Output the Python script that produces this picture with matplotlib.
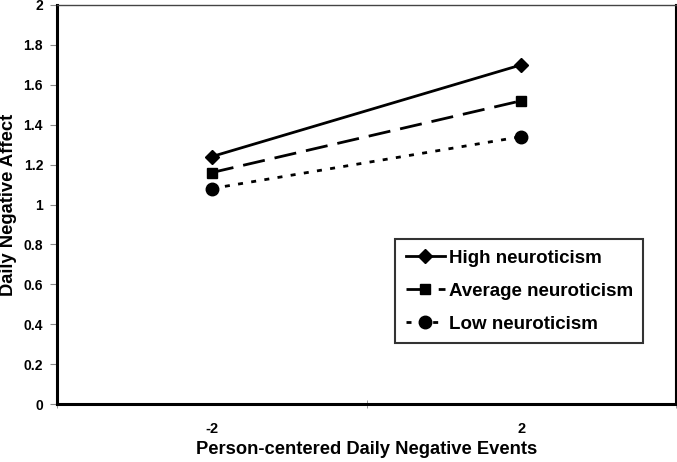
import numpy as np
import matplotlib
matplotlib.use('Agg')
import matplotlib.pyplot as plt

plt.rcParams['font.family'] = ['Liberation Sans', 'DejaVu Sans']
plt.rcParams['font.weight'] = 'bold'

# data
events = ['-2', '2']
high = [1.24, 1.70]
average = [1.16, 1.52]
low = [1.08, 1.34]

xpos = np.arange(len(events))

fig = plt.figure(figsize=(6.77, 4.62), dpi=100)
ax = fig.add_axes([57/677, 58/462, 619/677, 399/462])

ax.plot(xpos, high, color='black', lw=2.0, marker='D', ms=7.5, label='High neuroticism')
ax.plot(xpos, average, color='black', lw=2.0, marker='s', ms=7.5,
        dashes=(8, 3.6), label='Average neuroticism')
ax.plot(xpos, low, color='black', lw=2.0, marker='o', ms=9,
        dashes=(1.8, 3.0), label='Low neuroticism')

ax.set_xlim(-0.5, 1.5)
ax.set_ylim(0, 2)
ax.set_yticks(np.arange(0, 2.01, 0.2))
ax.set_yticklabels(['0', '0.2', '0.4', '0.6', '0.8', '1', '1.2', '1.4', '1.6', '1.8', '2'])
ax.set_xticks(xpos)
ax.set_xticklabels(events)
ax.set_xticks([-0.5, 0.5, 1.5], minor=True)
ax.tick_params(axis='x', which='major', length=0, labelsize=10.5, pad=13)
ax.tick_params(axis='x', which='minor', length=6, direction='inout', color='#888888')
ax.tick_params(axis='y', which='major', length=5, direction='out', labelsize=10,
               color='#888888', pad=5)

for s in ['left', 'bottom']:
    ax.spines[s].set_linewidth(2.2)
ax.spines['right'].set_linewidth(1.5)
ax.spines['top'].set_linewidth(1.0)
ax.spines['top'].set_color('#444444')

ax.set_xlabel('Person-centered Daily Negative Events', fontsize=13.2, fontweight='bold')
ax.xaxis.set_label_coords(0.5, -0.093)
ax.set_ylabel('Daily Negative Affect', fontsize=13.2, fontweight='bold')
ax.yaxis.set_label_coords(-0.064, 0.5)

leg = ax.legend(loc='lower right', bbox_to_anchor=(0.947, 0.153), fontsize=13.5,
                frameon=True, fancybox=False, edgecolor='black', handlelength=2.1,
                borderpad=0.55, labelspacing=0.85, handletextpad=0.2, borderaxespad=0)
leg.get_frame().set_linewidth(1.5)

fig.savefig('out.png', dpi=100)
